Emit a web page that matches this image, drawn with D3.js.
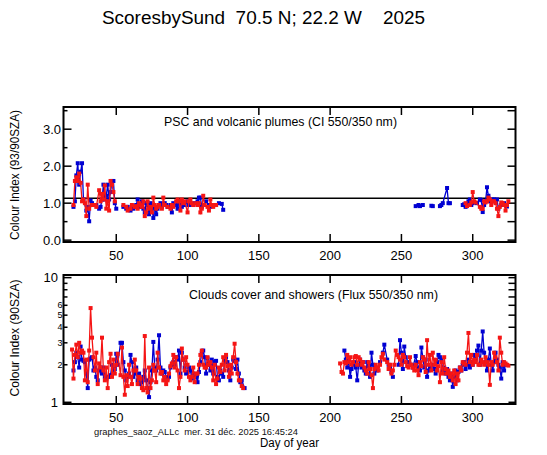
<!DOCTYPE html>
<html><head><meta charset="utf-8">
<script src="https://cdn.jsdelivr.net/npm/d3@7"></script>
<style>body{margin:0;background:#fff}svg{display:block}text{font-family:"Liberation Sans",Arial,sans-serif}</style>
</head><body>
<script>
// ---- data ----
const titleText = "ScoresbySund  70.5 N; 22.2 W    2025";
const xTicks = [50, 100, 150, 200, 250, 300];
const ciTicks = [0, 1, 2, 3];
const ciTickLabels = ["0.0", "1.0", "2.0", "3.0"];
const ciMinor = [0.5, 1.5, 2.5, 3.5];
const ciRight = [0, 0.5, 1, 1.5, 2, 2.5, 3, 3.5];
const ciThreshold = 1.13;
const fluxMajor = [1, 10];
const fluxMinor = [2, 3, 4, 5, 6, 7, 8, 9];
const fluxMinorLabels = [2, 3, 4, 5, 6];
const fluxRight = [1, 2, 3, 4, 5, 6, 7, 8, 9, 10];

const psBlue = [[20,0.9],[21,1.05],[22,1.75],[23,2.08],[24,1.5],[25,1.85],[26,2.08],[27,1.1],[29,0.8],[30,0.9],[31,0.51],[32,1.07],[33,1.0],[34,0.95],[36,0.95],[38,0.85],[39,0.9],[40,1.1],[41,1.5],[42,1.1],[43,1.2],[44,1.5],[45,1.1],[46,1.3],[47,1.6],[48,1.6],[49,1.0],[50,0.85],
[55,0.9],[57,0.85],[58,0.9],[60,0.8],[61,0.9],[62,0.85],[63,0.9],[64,0.95],[65,1.1],[66,0.95],[67,0.9],[68,1.05],[69,0.85],[70,0.75],[71,1.0],[72,0.95],[73,0.7],[74,1.0],[75,0.85],[76,0.6],[77,0.9],[78,0.7],[79,0.85],[80,0.95],[81,1.0],[82,0.9],[84,1.0],[85,0.95],[86,0.9],[88,0.95],[89,0.75],[90,1.0],[92,0.95],[93,0.85],[94,1.05],[95,0.95],[96,0.9],[97,1.0],[98,0.95],[100,1.05],[101,0.95],[102,1.0],[104,0.95],[105,1.0],[107,1.05],[108,1.15],[109,1.15],[110,0.9],[111,0.95],[113,1.05],[115,0.95],[116,0.9],[118,0.95],[120,0.95],[122,1.0],[124,0.98],[125,0.82],
[260,0.92],[262,0.95],[263,0.92],[265,0.95],[271,0.93],[272,0.92],[277,0.92],[278,0.95],[279,1.0],[282,1.41],[283,1.0],[284,1.0],[293,0.95],[294,0.97],[295,0.9],[296,0.95],[297,1.05],[298,1.1],[299,0.95],[300,1.0],[303,1.0],[305,1.1],[306,1.08],[307,0.76],[308,0.95],[309,1.05],[310,1.43],[311,1.2],[312,1.05],[314,1.1],[315,1.1],[316,1.05],[317,1.1],[318,0.85],[320,0.95],[322,1.0],[324,0.91]];

const psRed = [[20,0.95],[21,1.6],[22,1.7],[23,1.6],[24,1.8],[25,1.55],[26,1.05],[27,1.1],[28,1.0],[29,0.65],[30,1.5],[31,0.85],[33,0.95],[35,0.95],[36,0.9],[38,1.35],[39,1.05],[40,1.25],[41,1.1],[42,1.48],[43,0.85],[44,1.05],[45,0.8],[46,1.6],[47,1.5],[48,1.3],[49,1.05],
[55,0.95],[57,0.9],[58,0.8],[60,0.85],[61,0.95],[63,0.9],[64,0.92],[65,0.85],[66,1.0],[67,0.95],[68,0.9],[69,1.05],[70,0.65],[71,0.75],[72,1.05],[73,0.85],[74,0.9],[75,0.75],[76,1.15],[77,0.95],[78,0.85],[79,0.9],[80,0.95],[82,0.85],[83,1.15],[84,0.95],[86,0.9],[88,0.85],[89,0.95],[90,0.9],[92,1.05],[93,1.1],[94,1.05],[95,0.8],[96,1.1],[97,1.0],[98,1.05],[100,0.75],[101,1.05],[102,1.1],[103,1.0],[104,0.95],[106,1.0],[107,0.95],[108,1.0],[109,0.75],[110,0.85],[111,1.2],[112,0.95],[114,0.9],[115,0.8],[116,1.1],[117,0.95],[118,0.9],[119,0.95],[120,0.95],
[295,1.0],[296,0.92],[298,0.95],[299,1.02],[300,1.3],[301,1.05],[302,1.02],[305,0.9],[306,0.85],[307,0.85],[308,1.05],[309,1.02],[310,1.05],[311,1.15],[312,1.1],[313,0.95],[314,1.05],[315,1.05],[316,1.0],[317,0.85],[318,0.65],[319,0.9],[320,1.02],[321,1.0],[322,0.95],[323,0.8],[324,0.95],[325,1.05]];

const clBlue = [[20,1.8],[21,2.1],[22,2.5],[23,2.3],[24,1.9],[25,2.8],[26,2.2],[27,2.15],[28,2.1],[29,1.7],[30,1.3],[31,2.2],[32,2.25],[33,2.3],[34,1.8],[35,1.9],[36,1.6],[37,1.5],[38,1.8],[39,1.9],[40,1.7],[41,1.9],[42,1.6],[43,1.55],[44,1.6],[45,1.6],[46,1.65],[47,2.0],[48,1.8],[49,1.85],[50,2.45],[51,2.0],[53,3.0],[54,3.0],[55,2.1],[56,1.8],[57,1.5],[58,1.6],[59,1.7],[60,2.4],[61,2.1],[62,1.6],[63,1.7],[64,1.9],[65,1.5],[66,1.7],[67,1.4],[68,1.45],[69,1.6],[70,1.8],[71,1.5],[72,1.3],[73,1.1],[74,1.45],[75,1.8],[76,3.05],[77,1.9],[78,1.8],[79,2.2],[80,3.45],[81,1.9],[82,1.7],[83,1.8],[84,1.75],[85,1.6],[86,1.55],[87,1.6],[88,1.9],[89,2.0],[90,2.1],[91,2.0],[92,2.3],[93,2.2],[94,2.6],[95,1.7],[96,2.5],[97,2.2],[98,1.9],[99,1.7],[100,1.75],[101,1.9],[102,1.8],[103,1.55],[104,1.7],[105,1.65],[106,1.6],[107,1.45],[108,1.75],[109,2.1],[110,2.5],[111,2.6],[112,2.3],[113,1.7],[114,2.25],[115,2.0],[116,1.8],[117,2.2],[118,1.7],[119,2.1],[120,2.15],[121,1.6],[122,1.5],[123,1.8],[124,1.7],[125,1.6],[126,2.2],[127,2.3],[128,2.1],[129,1.8],[130,1.5],[131,1.9],[132,2.2],[133,2.15],[134,1.85],[135,2.2],[136,1.7],[137,1.45],[138,1.5],[140,1.3],
[210,2.6],[211,2.2],[212,1.9],[213,2.2],[214,1.6],[215,1.85],[216,2.0],[217,2.1],[218,1.9],[219,1.5],[220,2.0],[221,2.2],[222,1.9],[223,2.1],[224,1.8],[225,1.7],[226,2.1],[227,1.95],[228,1.6],[229,2.5],[230,2.0],[231,1.7],[232,1.9],[233,1.8],[235,2.1],[237,2.5],[238,2.9],[240,2.2],[241,2.0],[242,1.9],[243,1.75],[244,1.6],[248,2.0],[249,3.15],[250,2.5],[251,1.85],[252,2.8],[253,2.3],[255,2.1],[257,2.0],[258,1.9],[260,2.35],[261,2.1],[262,1.9],[263,1.8],[264,2.75],[265,2.3],[266,1.9],[267,2.2],[268,1.6],[269,1.8],[270,1.9],[272,2.0],[273,1.85],[274,1.7],[275,2.1],[276,2.4],[277,2.3],[278,2.2],[279,1.8],[280,1.9],[281,1.7],[282,1.85],[283,1.6],[284,1.5],[285,1.7],[286,1.33],[287,1.6],[288,1.8],[289,1.5],[290,1.75],[291,1.9],[292,1.8],[293,2.0],[294,2.1],[295,1.85],[296,2.0],[297,2.2],[298,1.9],[299,2.1],[300,2.0],[301,2.4],[302,2.2],[303,2.6],[304,2.85],[305,2.0],[306,2.6],[307,3.7],[308,2.5],[309,2.1],[310,1.8],[311,2.2],[312,2.7],[313,2.0],[314,1.8],[315,2.1],[316,2.5],[317,2.2],[318,2.0],[319,1.9],[320,1.55],[321,2.1],[322,1.8],[323,2.0]];

const clRed = [[19,2.65],[20,1.55],[21,2.4],[22,2.9],[23,2.3],[24,3.0],[25,2.5],[26,2.6],[27,2.5],[28,1.5],[29,2.2],[30,1.45],[31,2.6],[32,5.7],[33,3.3],[34,2.3],[35,1.8],[36,2.5],[37,1.4],[38,2.05],[39,1.9],[40,3.3],[41,1.8],[42,1.5],[43,1.9],[44,1.3],[45,2.1],[46,2.45],[47,1.6],[48,2.2],[49,1.7],[50,2.0],[51,2.45],[53,1.65],[54,2.75],[55,1.6],[56,1.15],[57,1.65],[58,1.35],[59,2.0],[60,1.6],[61,1.4],[62,1.8],[63,2.2],[64,1.8],[65,1.4],[66,1.6],[67,1.55],[68,1.3],[69,1.25],[70,3.4],[71,1.3],[72,1.2],[73,1.9],[74,1.3],[75,1.5],[76,2.0],[77,1.8],[78,1.45],[79,2.5],[80,1.9],[81,1.7],[82,1.75],[83,1.5],[84,1.6],[85,1.4],[86,1.5],[87,1.7],[88,1.95],[89,2.05],[90,2.4],[91,1.9],[92,2.3],[93,1.8],[94,1.3],[95,1.6],[96,2.7],[97,2.2],[98,1.8],[99,2.3],[100,2.0],[101,1.6],[102,1.5],[103,1.6],[104,1.9],[105,1.45],[106,1.7],[107,1.7],[108,2.0],[109,2.4],[110,2.6],[111,2.0],[112,1.9],[113,1.9],[114,2.3],[115,2.0],[116,2.1],[117,1.9],[118,1.5],[119,2.0],[120,1.4],[121,1.55],[122,1.9],[123,1.75],[124,2.0],[125,2.3],[126,1.8],[127,2.4],[128,1.95],[129,1.6],[130,2.0],[131,1.7],[132,2.3],[133,2.95],[134,2.1],[135,1.7],[136,1.5],[137,1.5],[138,1.35],[139,1.3],
[207,2.05],[208,1.75],[209,1.7],[210,2.1],[211,2.05],[212,2.4],[213,2.1],[214,2.3],[215,2.0],[216,2.1],[217,2.3],[218,2.35],[219,2.0],[220,2.3],[221,2.2],[222,2.0],[223,2.1],[224,1.9],[225,1.8],[226,1.7],[227,2.1],[228,1.85],[229,1.65],[230,1.3],[231,1.85],[232,2.0],[233,1.9],[234,1.8],[235,2.0],[236,2.3],[237,2.45],[238,2.2],[240,2.1],[241,1.85],[242,2.0],[243,1.7],[244,1.8],[245,2.0],[246,2.6],[247,2.4],[248,2.3],[249,2.2],[250,2.0],[251,2.4],[252,2.3],[253,2.1],[254,1.95],[255,1.9],[256,2.3],[257,2.0],[258,1.9],[259,1.8],[260,2.0],[261,1.8],[262,1.65],[263,2.1],[264,1.95],[265,2.3],[266,2.2],[267,1.75],[268,3.15],[269,2.0],[270,2.4],[271,1.8],[272,2.5],[273,2.0],[274,2.2],[275,1.8],[276,1.95],[277,1.45],[278,2.1],[279,1.7],[280,2.3],[281,1.85],[282,1.7],[283,1.8],[284,1.6],[285,1.7],[286,1.5],[287,1.8],[288,1.4],[289,1.7],[290,1.5],[291,1.9],[292,1.8],[293,2.1],[294,2.05],[295,2.0],[296,2.5],[297,3.6],[298,2.1],[299,2.4],[300,2.0],[301,2.2],[302,2.1],[303,2.4],[304,2.0],[305,2.0],[306,2.2],[307,2.1],[308,2.0],[309,2.3],[310,2.1],[311,2.0],[312,1.38],[313,2.1],[314,2.0],[315,2.5],[316,2.3],[317,2.1],[318,1.8],[319,3.3],[320,2.5],[321,2.0],[322,2.1],[323,2.05],[324,2.0],[325,1.97]];

// ---- layout ----
const W = 547, H = 455;
const BLUE = "#0000d2", RED = "#f51515";
const svg = d3.select("body").append("svg").attr("width", W).attr("height", H);

const L = 63.5, R = 515.5;
const x = d3.scaleLinear().domain([13, 330]).range([L, R]);
const yTop = d3.scaleLinear().domain([-0.05, 3.6]).range([242, 107]);
const yBot = d3.scaleLog().domain([0.969, 10.5]).range([404, 275]);

svg.append("text").attr("x", 102).attr("y", 24).attr("font-size", 18)
  .attr("textLength", 323).attr("lengthAdjust", "spacingAndGlyphs")
  .style("white-space", "pre").text(titleText);

function splitSegments(data) {
  const segs = []; let cur = [];
  data.forEach((d, i) => {
    if (i > 0 && d[0] - data[i - 1][0] > 3) { segs.push(cur); cur = []; }
    cur.push(d);
  });
  if (cur.length) segs.push(cur);
  return segs;
}

function drawSeries(g, data, y, color) {
  const line = d3.line().x(d => x(d[0])).y(d => y(d[1]));
  splitSegments(data).forEach(seg => {
    g.append("path").attr("d", line(seg)).attr("fill", "none")
      .attr("stroke", color).attr("stroke-width", 1.3);
  });
  g.selectAll(null).data(data).enter().append("rect")
    .attr("x", d => x(d[0]) - 2).attr("y", d => y(d[1]) - 2)
    .attr("width", 4).attr("height", 4).attr("fill", color);
}

function frame(y) {
  const [b, t] = y.range();
  svg.append("rect").attr("x", L).attr("y", t).attr("width", R - L).attr("height", b - t)
    .attr("fill", "none").attr("stroke", "#000").attr("stroke-width", 2);
  const g = svg.append("g").attr("stroke", "#000").attr("stroke-width", 1.5);
  xTicks.forEach(v => {
    g.append("line").attr("x1", x(v)).attr("x2", x(v)).attr("y1", b).attr("y2", b - 8);
    g.append("line").attr("x1", x(v)).attr("x2", x(v)).attr("y1", t).attr("y2", t + 8);
  });
  svg.selectAll(null).data(xTicks).enter().append("text")
    .attr("x", d => x(d)).attr("y", b + 17.5).attr("text-anchor", "middle")
    .attr("font-size", 13).text(d => d);
}

// ---- top panel ----
frame(yTop);
{
  const g = svg.append("g").attr("stroke", "#000").attr("stroke-width", 1.5);
  ciTicks.forEach(v => g.append("line").attr("x1", L).attr("x2", L + 8).attr("y1", yTop(v)).attr("y2", yTop(v)));
  ciMinor.forEach(v => g.append("line").attr("x1", L).attr("x2", L + 4).attr("y1", yTop(v)).attr("y2", yTop(v)));
  ciRight.forEach(v => g.append("line").attr("x1", R).attr("x2", R - 8).attr("y1", yTop(v)).attr("y2", yTop(v)));
  svg.selectAll(null).data(ciTicks).enter().append("text")
    .attr("x", 61).attr("y", d => yTop(d) + 4.5).attr("text-anchor", "end")
    .attr("font-size", 13).text((d, i) => ciTickLabels[i]);
  svg.append("line").attr("x1", L).attr("x2", R).attr("y1", yTop(ciThreshold)).attr("y2", yTop(ciThreshold))
    .attr("stroke", "#000").attr("stroke-width", 1.5);
  const dg = svg.append("g");
  drawSeries(dg, psBlue, yTop, BLUE);
  drawSeries(dg, psRed, yTop, RED);
  svg.append("text").attr("x", 164).attr("y", 126).attr("font-size", 13)
    .attr("textLength", 233).attr("lengthAdjust", "spacingAndGlyphs")
    .text("PSC and volcanic plumes (CI 550/350 nm)");
  svg.append("text").attr("transform", "translate(19,175) rotate(-90)").attr("text-anchor", "middle")
    .attr("font-size", 13).attr("textLength", 130).attr("lengthAdjust", "spacingAndGlyphs")
    .text("Colour Index (93/90SZA)");
}

// ---- bottom panel ----
frame(yBot);
{
  const g = svg.append("g").attr("stroke", "#000").attr("stroke-width", 1.5);
  fluxMajor.forEach(v => g.append("line").attr("x1", L).attr("x2", L + 8).attr("y1", yBot(v)).attr("y2", yBot(v)));
  fluxMinor.forEach(v => g.append("line").attr("x1", L).attr("x2", L + 4).attr("y1", yBot(v)).attr("y2", yBot(v)));
  fluxRight.forEach(v => g.append("line").attr("x1", R).attr("x2", R - 7).attr("y1", yBot(v)).attr("y2", yBot(v)));
  svg.selectAll(null).data(fluxMajor).enter().append("text")
    .attr("x", 58).attr("y", d => yBot(d) + 4.5).attr("text-anchor", "end")
    .attr("font-size", 13).text(d => d);
  svg.selectAll(null).data(fluxMinorLabels).enter().append("text")
    .attr("x", 62.5).attr("y", d => yBot(d) + 3.2).attr("text-anchor", "end")
    .attr("font-size", 9).text(d => d);
  const dg = svg.append("g");
  drawSeries(dg, clBlue, yBot, BLUE);
  drawSeries(dg, clRed, yBot, RED);
  svg.append("text").attr("x", 189).attr("y", 298.5).attr("font-size", 13)
    .attr("textLength", 249).attr("lengthAdjust", "spacingAndGlyphs")
    .text("Clouds cover and showers (Flux 550/350 nm)");
  svg.append("text").attr("transform", "translate(19,338) rotate(-90)").attr("text-anchor", "middle")
    .attr("font-size", 13).attr("textLength", 117).attr("lengthAdjust", "spacingAndGlyphs")
    .text("Colour Index (90SZA)");
}

// ---- footer ----
svg.append("text").attr("x", 94).attr("y", 435).attr("font-size", 9.5).attr("fill", "#111")
  .attr("textLength", 204).attr("lengthAdjust", "spacingAndGlyphs").style("white-space", "pre")
  .text("graphes_saoz_ALLc  mer. 31 déc. 2025 16:45:24");
svg.append("text").attr("x", 260).attr("y", 447).attr("font-size", 12.5)
  .attr("textLength", 59).attr("lengthAdjust", "spacingAndGlyphs").text("Day of year");
</script>
</body></html>
